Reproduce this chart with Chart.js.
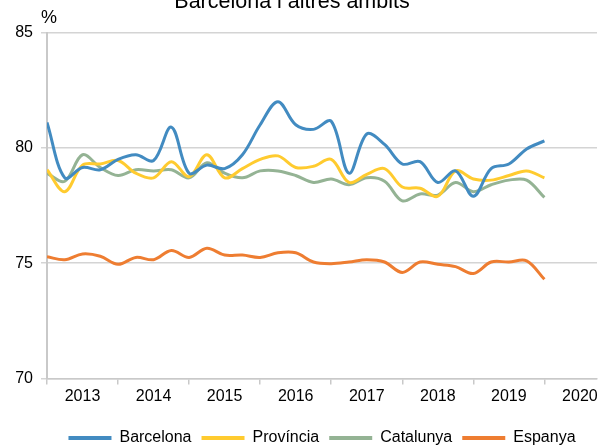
<!DOCTYPE html>
<html lang="ca">
<head>
<meta charset="utf-8">
<title>Barcelona i altres àmbits</title>
<script src="https://cdn.jsdelivr.net/npm/chart.js@4/dist/chart.umd.min.js"></script>
<style>
    html, body { margin: 0; padding: 0; background: #fff; }
    #chart { display: block; }
</style>
</head>
<body>
<canvas id="chart" width="613" height="446"></canvas>
<script>
// Quarterly data, 2013 T1 .. 2020 T1
const quarters = [
    '2013T1', '2013T2', '2013T3', '2013T4',
    '2014T1', '2014T2', '2014T3', '2014T4',
    '2015T1', '2015T2', '2015T3', '2015T4',
    '2016T1', '2016T2', '2016T3', '2016T4',
    '2017T1', '2017T2', '2017T3', '2017T4',
    '2018T1', '2018T2', '2018T3', '2018T4',
    '2019T1', '2019T2', '2019T3', '2019T4',
    '2020T1'
];
const years = [2013, 2014, 2015, 2016, 2017, 2018, 2019, 2020];
const yTicks = [70, 75, 80, 85];

const barcelona = [81.1, 78.7, 79.15, 79.05, 79.5, 79.7, 79.45, 80.9, 78.9, 79.25, 79.1, 79.7, 81.0, 82.0, 81.0, 80.8, 81.15, 78.9, 80.6, 80.15, 79.3, 79.4, 78.5, 79.0, 77.9, 79.1, 79.3, 79.95, 80.3];
const provincia = [79.05, 78.1, 79.25, 79.3, 79.45, 78.9, 78.7, 79.4, 78.75, 79.7, 78.7, 79.1, 79.5, 79.65, 79.15, 79.2, 79.5, 78.5, 78.85, 79.1, 78.3, 78.25, 77.9, 79.0, 78.65, 78.6, 78.8, 79.0, 78.7];
const catalunya = [78.9, 78.55, 79.7, 79.15, 78.8, 79.05, 79.0, 79.05, 78.7, 79.35, 78.9, 78.7, 79.0, 79.0, 78.8, 78.5, 78.65, 78.4, 78.7, 78.55, 77.7, 78.0, 77.95, 78.5, 78.1, 78.4, 78.6, 78.6, 77.85];
const espanya = [75.28, 75.15, 75.4, 75.3, 74.95, 75.25, 75.15, 75.55, 75.25, 75.65, 75.35, 75.35, 75.25, 75.45, 75.45, 75.05, 74.98, 75.05, 75.15, 75.05, 74.6, 75.05, 74.95, 74.85, 74.55, 75.05, 75.05, 75.1, 74.3];

const FONT = "'Liberation Sans', Arial, sans-serif";
const AXIS_GREY = '#c9c9c9';

// '2014T3' -> 2014.5 (position on the linear time axis)
function quarterToX(q) {
    return Number(q.slice(0, 4)) + (Number(q.slice(5)) - 1) / 4;
}

function toPoints(values) {
    return values.map((v, i) => ({ x: quarterToX(quarters[i]), y: v }));
}

function series(label, values, color) {
    return {
        label: label,
        data: toPoints(values),
        borderColor: color,
        backgroundColor: color,
        borderWidth: 3,
        pointRadius: 0,
        tension: 0.35,
        fill: false
    };
}

// Title (cropped at the top in the original) and the "%" unit label
const annotations = {
    id: 'annotations',
    afterDraw(chart) {
        const ctx = chart.ctx;
        ctx.save();
        ctx.fillStyle = '#000';
        ctx.textAlign = 'center';
        ctx.textBaseline = 'alphabetic';
        ctx.font = '21.5px ' + FONT;
        ctx.fillText('Barcelona i altres àmbits', 292, 8);
        ctx.font = '18px ' + FONT;
        ctx.fillText('%', 49, 23);
        ctx.restore();
    }
};

new Chart(document.getElementById('chart'), {
    type: 'line',
    data: {
        datasets: [
            series('Barcelona', barcelona, '#428bc1'),
            series('Província', provincia, '#ffcb2f'),
            series('Catalunya', catalunya, '#94b394'),
            series('Espanya', espanya, '#ee7d31')
        ]
    },
    options: {
        responsive: false,
        animation: false,
        layout: {
            padding: { top: 32.5, right: 16, bottom: -10, left: 0 }
        },
        plugins: {
            legend: {
                position: 'bottom',
                fullSize: false,
                labels: {
                    color: '#000',
                    font: { family: FONT, size: 16 },
                    boxWidth: 43,
                    boxHeight: 4,
                    padding: 10,
                    generateLabels(chart) {
                        return chart.data.datasets.map((ds, i) => ({
                            text: ds.label,
                            fillStyle: ds.borderColor,
                            strokeStyle: ds.borderColor,
                            lineWidth: 0,
                            fontColor: '#000',
                            datasetIndex: i
                        }));
                    }
                }
            },
            tooltip: { enabled: false }
        },
        scales: {
            x: {
                type: 'linear',
                min: 2013,
                max: 2020.74,
                afterBuildTicks(scale) {
                    scale.ticks = years.map(v => ({ value: v }));
                },
                afterFit(scale) {
                    scale.height = 41.5;
                },
                grid: {
                    drawOnChartArea: false,
                    drawTicks: true,
                    tickLength: 6,
                    color: AXIS_GREY,
                    lineWidth: 1.5
                },
                border: { display: true, color: AXIS_GREY, width: 1.5 },
                ticks: {
                    autoSkip: false,
                    maxRotation: 0,
                    padding: 2,
                    labelOffset: 35.5,
                    color: '#000',
                    font: { family: FONT, size: 16 },
                    callback: v => String(v)
                }
            },
            y: {
                min: 70,
                max: 85,
                afterBuildTicks(scale) {
                    scale.ticks = yTicks.map(v => ({ value: v }));
                },
                afterFit(scale) {
                    scale.width = 47;
                },
                grid: {
                    color: '#d4d4d4',
                    lineWidth: 1.5,
                    drawTicks: true,
                    tickLength: 6
                },
                border: { display: true, color: AXIS_GREY, width: 2 },
                ticks: {
                    padding: 8,
                    color: '#000',
                    font: { family: FONT, size: 16 }
                }
            }
        }
    },
    plugins: [annotations]
});
</script>
</body>
</html>
